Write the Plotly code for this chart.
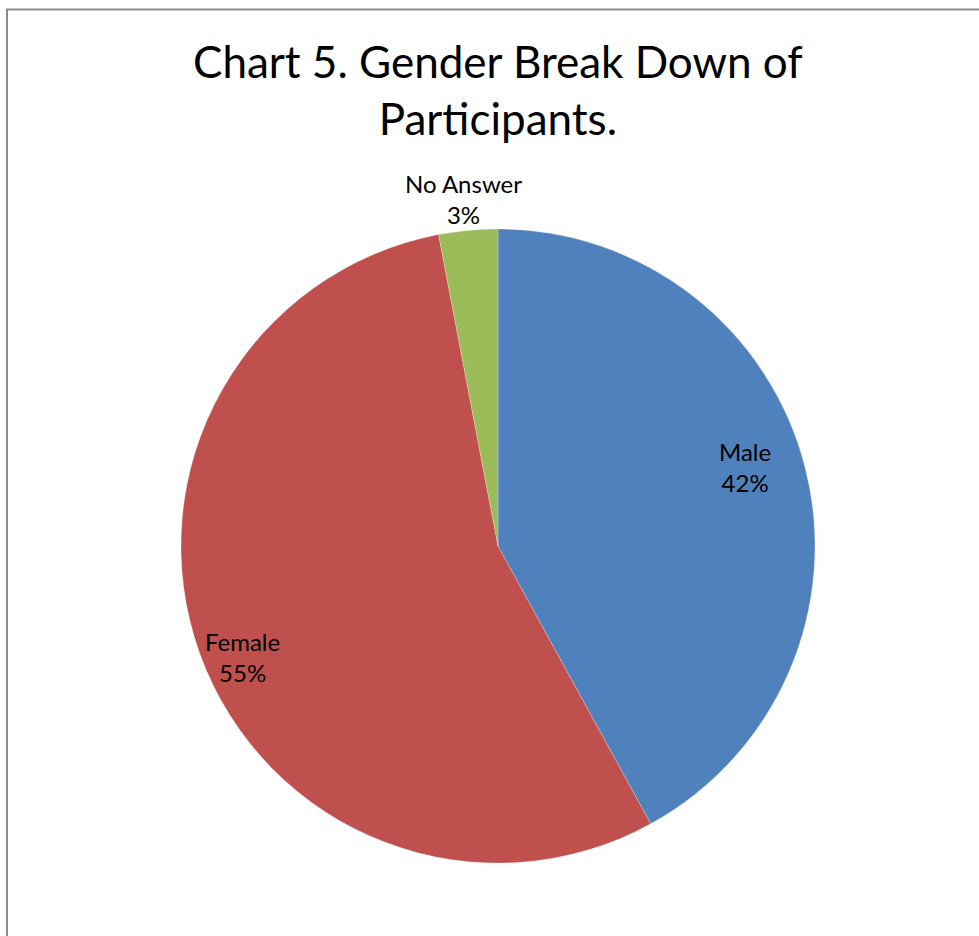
import math
import plotly.graph_objects as go

categories = ["Male", "Female", "No Answer"]
values = [42, 55, 3]
colors = ["#4F81BD", "#C0504D", "#9BBB59"]

W, H = 979, 936
cx, cy, R = 498, 546, 317  # pixel centre and radius of the pie

# label placement: radial fraction and small angular nudge (degrees)
label_radius = [0.817, 0.88, 1.10]
label_nudge = [-3.3, -3.7, -0.3]

fig = go.Figure()
fig.add_trace(go.Pie(
    labels=categories,
    values=values,
    sort=False,
    direction="clockwise",
    rotation=0,
    marker=dict(colors=colors, line=dict(color="rgba(255,255,255,0.4)", width=0.6)),
    textinfo="none",
    hoverinfo="label+percent",
    showlegend=False,
    domain=dict(x=[(cx - R) / W, (cx + R) / W], y=[1 - (cy + R) / H, 1 - (cy - R) / H]),
))

total = sum(values)
cum = 0
annotations = []
for name, v, f, nudge in zip(categories, values, label_radius, label_nudge):
    mid = (cum + v / 2) / total * 360 + nudge
    cum += v
    t = math.radians(mid)
    px = cx + R * f * math.sin(t)
    py = cy - R * f * math.cos(t)
    annotations.append(dict(
        x=px / W, y=1 - py / H, xref="paper", yref="paper",
        text=f"{name}<br>{round(v / total * 100)}%",
        showarrow=False, xanchor="center", yanchor="middle",
        font=dict(family="Lato, Carlito, Calibri, sans-serif", size=24, color="#000000"),
        align="center",
    ))

annotations.append(dict(
    x=498 / W, y=1 - 89 / H, xref="paper", yref="paper",
    text="Chart 5. Gender Break Down of<br>Participants.",
    showarrow=False, xanchor="center", yanchor="middle",
    font=dict(family="Lato, Carlito, Calibri, sans-serif", size=44, color="#000000"),
    align="center",
))

fig.update_layout(
    width=W, height=H,
    margin=dict(l=0, r=0, t=0, b=0),
    paper_bgcolor="white",
    plot_bgcolor="white",
    annotations=annotations,
    shapes=[dict(
        type="rect", xref="paper", yref="paper",
        x0=7 / W, x1=1.05, y0=-0.05, y1=1 - 9.5 / H,
        line=dict(color="#8C8C8C", width=2), fillcolor="rgba(0,0,0,0)",
        layer="above",
    )],
)

fig.write_html("out.html")
